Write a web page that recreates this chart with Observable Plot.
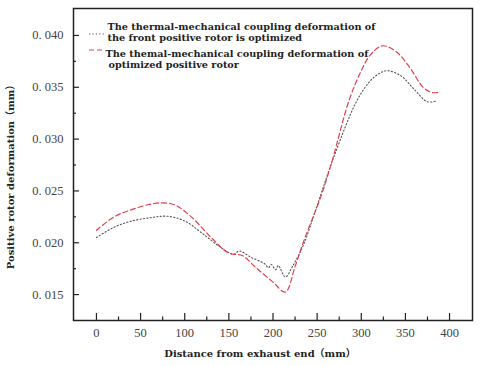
<!DOCTYPE html>
<html><head><meta charset="utf-8">
<script src="https://cdn.jsdelivr.net/npm/d3@7"></script>
<script src="https://cdn.jsdelivr.net/npm/@observablehq/plot@0.6"></script>
<style>body{margin:0;background:#fff}</style>
</head><body><div id="chart"></div>
<script>
const blackX = [0,20,40,60,80,100,120,140,155,162,175,190,195,198,203,206,214,222,235,250,269,295,310,320,329,345,360,375,386];
const blackY = [0.0205,0.0215,0.0221,0.0224,0.02256,0.0221,0.0209,0.0196,0.0189,0.0192,0.0186,0.0180,0.0176,0.0179,0.0174,0.0178,0.0167,0.0177,0.0199,0.0236,0.0283,0.0337,0.0356,0.0363,0.0366,0.0361,0.0348,0.0336,0.0337];
const redX = [0,20,40,60,75,90,110,130,150,165,180,200,214,225,235,254,267,286,300,310,324,340,355,370,380,388];
const redY = [0.0212,0.0225,0.0232,0.0237,0.02385,0.0236,0.0223,0.0205,0.0190,0.01877,0.01765,0.0162,0.01525,0.0177,0.0202,0.0244,0.0279,0.0337,0.0366,0.0381,0.0390,0.0384,0.0369,0.0350,0.0345,0.0345];
const xTicks = [0,50,100,150,200,250,300,350,400];
const xMinor = [25,75,125,175,225,275,325,375];
const yTicks = [0.015,0.020,0.025,0.030,0.035,0.040];
const yMinor = [0.0175,0.0225,0.0275,0.0325,0.0375];
const legend1 = ["The thermal-mechanical coupling deformation of","the front positive rotor is optimized"];
const legend2 = ["The themal-mechanical coupling deformation of","optimized positive rotor"];
const xTitle = "Distance from exhaust end（mm）";
const yTitle = "Positive rotor deformation（mm）";

const black = blackX.map((x,i)=>({x, y: blackY[i]}));
const red = redX.map((x,i)=>({x, y: redY[i]}));
const xDom = [-26, 426], yDom = [0.0125, 0.0426];
const yPerPx = (yDom[1]-yDom[0])/312, xPerPx = (xDom[1]-xDom[0])/399;
const legFont = {fontFamily:"DejaVu Serif", fontWeight:"bold", fontSize:9.7, textAnchor:"start", fill:"#222", frameAnchor:"top-left"};

const chart = Plot.plot({
  width: 480, height: 366,
  marginLeft: 73, marginRight: 8, marginTop: 8, marginBottom: 46,
  x: {domain: xDom},
  y: {domain: yDom},
  style: {fontFamily: "Liberation Serif", fontSize: "12.5px", color: "#444", background: "#fff"},
  marks: [
    Plot.axisX(xTicks, {tickSize: 0, tickPadding: 8, label: null, fontSize: 12.5}),
    Plot.axisY(yTicks, {tickSize: 0, tickPadding: 10, label: null, fontSize: 12.5, tickFormat: d => d.toFixed(3).replace(".", ". ")}),
    Plot.ruleX(xTicks, {x: d => d, y1: yDom[0], y2: yDom[0] + 7*yPerPx, stroke: "#222", strokeWidth: 1.2}),
    Plot.ruleX(xMinor, {x: d => d, y1: yDom[0], y2: yDom[0] + 3.5*yPerPx, stroke: "#222", strokeWidth: 1.2}),
    Plot.ruleY(yTicks, {y: d => d, x1: xDom[0], x2: xDom[0] + 6*xPerPx, stroke: "#222", strokeWidth: 1.2}),
    Plot.ruleY(yMinor, {y: d => d, x1: xDom[0], x2: xDom[0] + 3*xPerPx, stroke: "#222", strokeWidth: 1.2}),
    Plot.line(black, {x: "x", y: "y", stroke: "#555", strokeWidth: 1.1, strokeDasharray: "1.2,2.2", curve: "catmull-rom"}),
    Plot.line(red, {x: "x", y: "y", stroke: "#e0404e", strokeWidth: 1.2, strokeDasharray: "5,3", curve: "catmull-rom"}),
    Plot.frame({stroke: "#222", strokeWidth: 1.5}),
    Plot.text([legend1[0]], {...legFont, dx: 34, dy: 15, text: d => d}),
    Plot.text([legend1[1]], {...legFont, dx: 34, dy: 26, text: d => d}),
    Plot.text([legend2[0]], {...legFont, dx: 32, dy: 42, text: d => d}),
    Plot.text([legend2[1]], {...legFont, dx: 35, dy: 53, text: d => d}),
    Plot.text([xTitle], {frameAnchor: "bottom", dx: -13, dy: 36, text: d => d, fontFamily: "DejaVu Serif, Noto Sans CJK SC", fontWeight: "bold", fontSize: 10, fill: "#222"}),
    Plot.text([yTitle], {frameAnchor: "left", textAnchor: "middle", dx: -63, dy: 10, rotate: -90, text: d => d, fontFamily: "DejaVu Serif, Noto Sans CJK SC", fontWeight: "bold", fontSize: 10, fill: "#222"})
  ]
});
// legend swatches
const svg = d3.select(chart);
svg.append("line").attr("x1", 89).attr("x2", 106).attr("y1", 34).attr("y2", 34)
  .attr("stroke", "#555").attr("stroke-width", 1.1).attr("stroke-dasharray", "1.2,2.2");
svg.append("line").attr("x1", 89).attr("x2", 104).attr("y1", 50).attr("y2", 50)
  .attr("stroke", "#e0404e").attr("stroke-width", 1.2).attr("stroke-dasharray", "5,3");
document.getElementById("chart").append(chart);
</script>
</body></html>
